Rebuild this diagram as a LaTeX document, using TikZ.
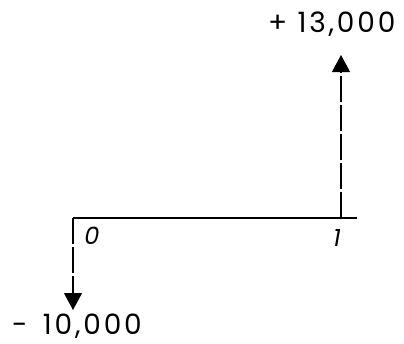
\documentclass[tikz,border=0pt]{standalone}
\usepackage{fontspec}
\setmainfont{Poppins}
\newfontfamily\amountfont[LetterSpace=10]{Poppins}
\usetikzlibrary{arrows.meta}
\begin{document}
\begin{tikzpicture}[x=1pt,y=-1pt,
  axis/.style={line width=1.6pt},
  flow/.style={line width=1.1pt,dash pattern=on 26pt off 3pt,-{Triangle[width=18pt,length=17pt]}},
  amount/.style={font=\amountfont\fontsize{28}{30}\selectfont,inner sep=0pt,anchor=base west},
  period/.style={font=\fontsize{24}{26}\selectfont\itshape,inner sep=0pt}]
\useasboundingbox (0,0) rectangle (404,343);
\coordinate (o) at (73,218);
\coordinate (e) at (357,218);
\coordinate (t1) at (341,218);
\coordinate (dn) at (73,310);
\coordinate (up) at (341,55);
\draw[axis] (o) -- (e);
\draw[flow] (o) -- (dn);
\draw[flow] (t1) -- (up);
\node[amount] (neg) at (12,334) {-\hspace{5pt} 10,000};
\node[amount] (pos) at (268,32) {+ 13,000};
\node[period] (p0) at (92,236) {0};
\node[period] (p1) at (337,238) {1};
\end{tikzpicture}
\end{document}
